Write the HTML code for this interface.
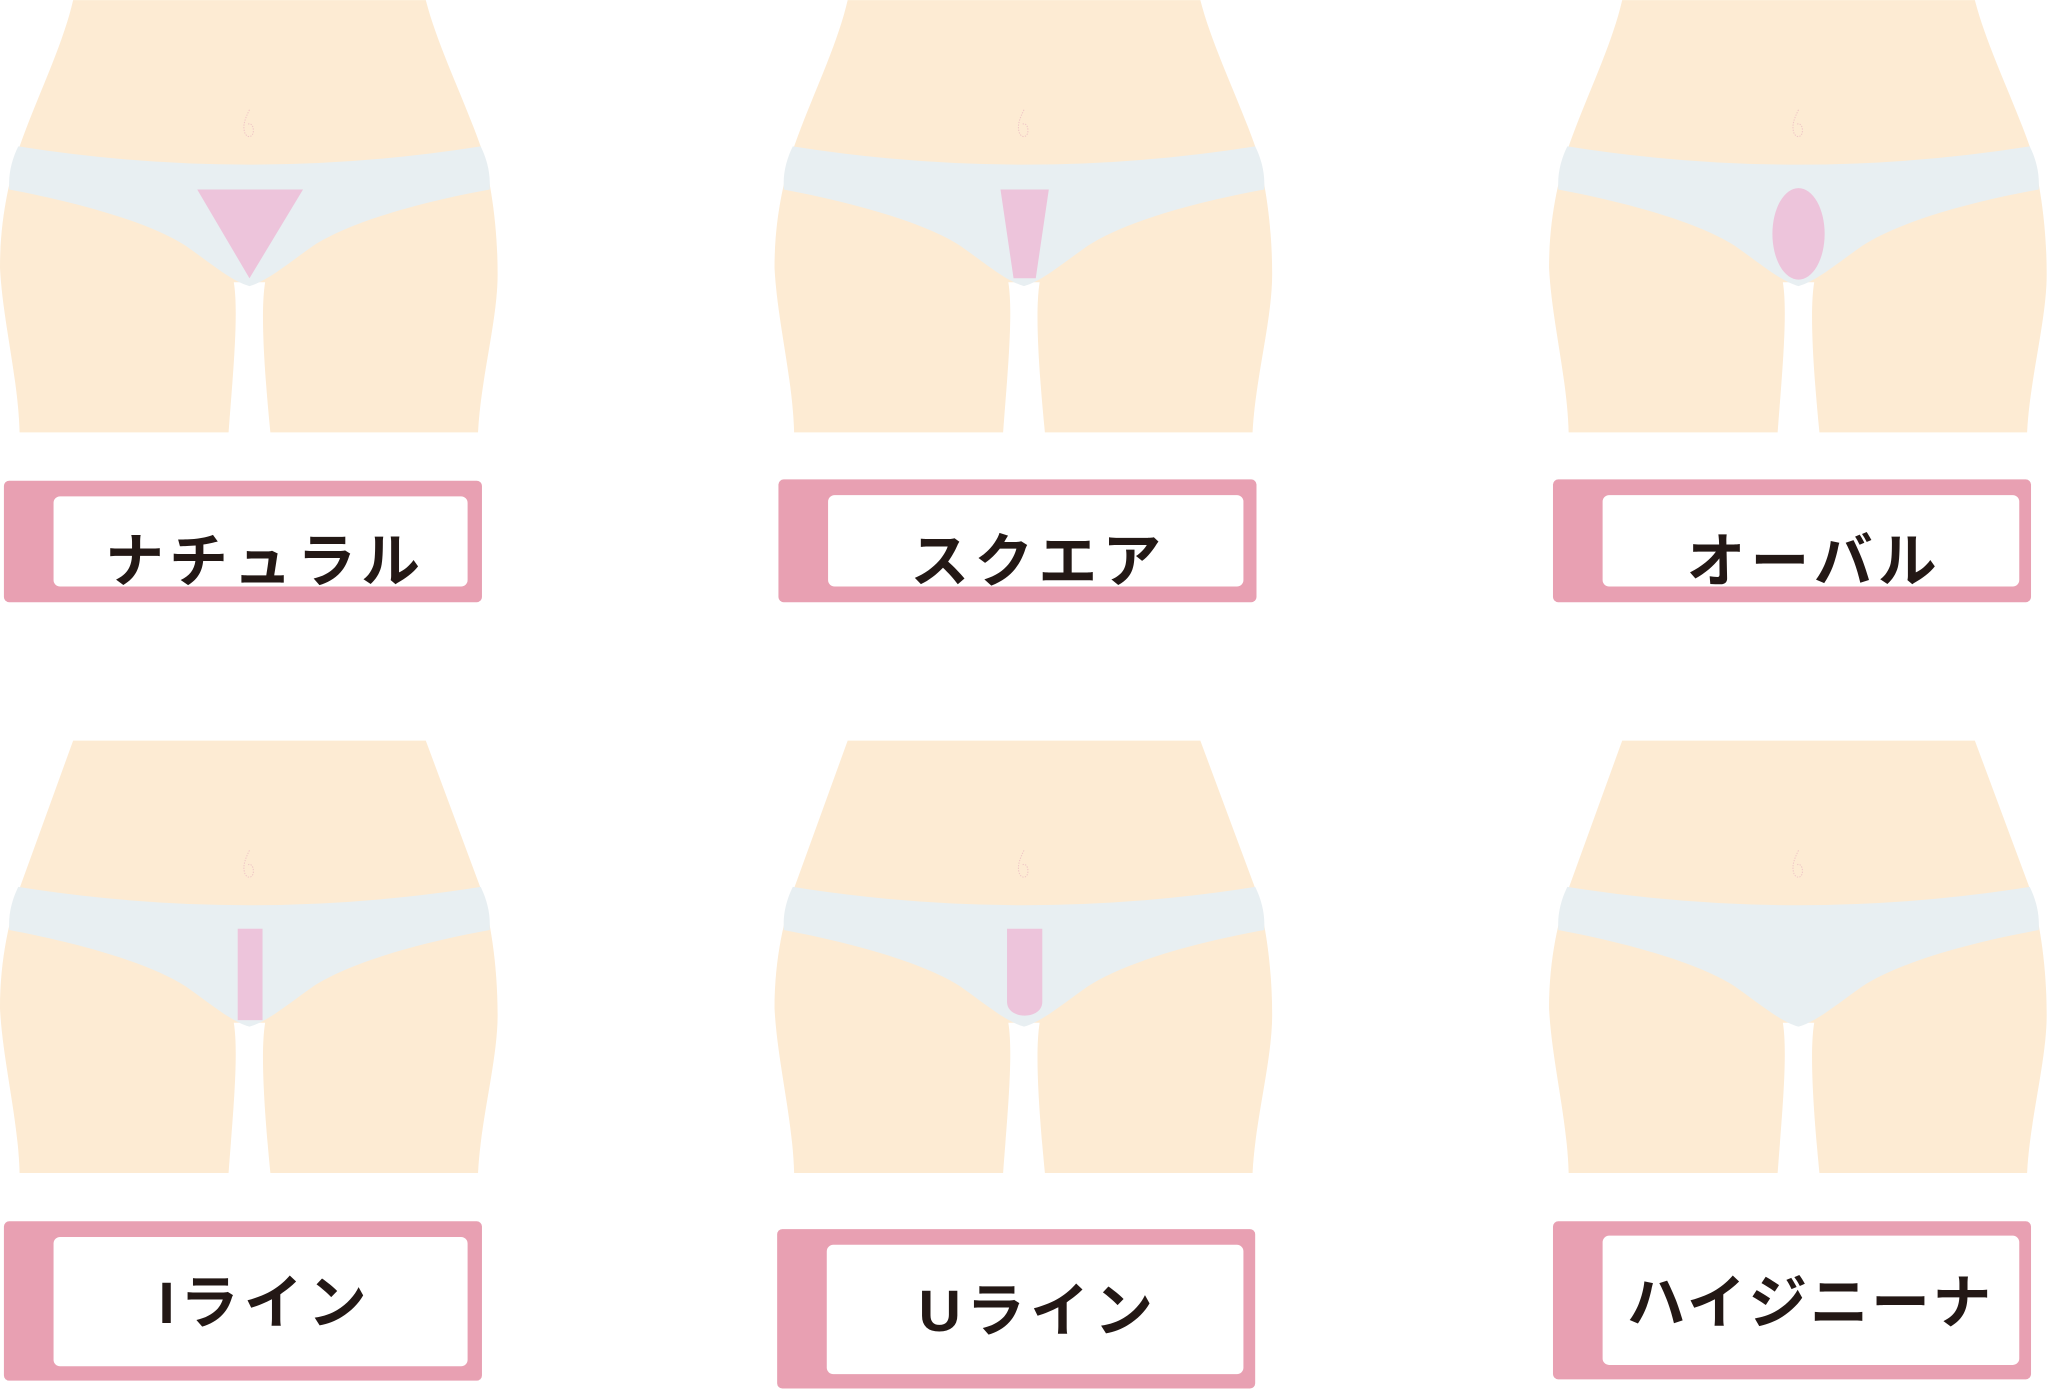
<!DOCTYPE html>
<html><head><meta charset="utf-8"><style>
html,body{margin:0;padding:0;background:#fff;width:2048px;height:1399px;overflow:hidden}
svg{display:block}
text{font-family:"Liberation Sans","Noto Sans CJK JP",sans-serif;font-weight:bold;fill:#231815}
</style></head><body>
<svg width="2048" height="1399" viewBox="0 0 1568 1071" xmlns="http://www.w3.org/2000/svg">
<defs>
<path id="navel" fill="none" stroke="#efc6c6" stroke-width="0.8" stroke-dasharray="1,1" d="M191,84 C188,90 186,95 187,100 C188,106 194,106 194,100 C194,96 192,94 190,95"/>
<g id="body">
<path fill="#FDEBD3" d="M56,0 L326,0 C335,35 355,75 368,112 C375,135 381,170 381,210 C381,245 368,290 366,331 L207,331 C203,290 199,240 203,216 L179,216 C183,240 178,290 175,331 L15,331 C14,290 2,245 0,205 C0,165 8,135 15,112 C28,75 48,35 56,0 Z"/>
<use href="#navel"/>
</g>
<g id="body2">
<path fill="#FDEBD3" d="M56,0 L326,0 L368,113 C375,135 381,170 381,210 C381,245 368,290 366,331 L207,331 C203,290 199,240 203,216 L179,216 C183,240 178,290 175,331 L15,331 C14,290 2,245 0,205 C0,165 8,135 15,113 L56,0 Z"/>
<use href="#navel"/>
</g>
<path id="panty" fill="#E8EFF2" d="M14,112 Q191,140 368,112 C372,120 375,130 375,140 L375,145 C320,155 268,170 240,188 C220,202 205,215 191,219 C177,215 162,202 142,188 C114,170 60,155 7,145 L7,140 C7,130 10,120 14,112 Z"/>
<path id="panty2" fill="#E8EFF2" d="M14,113 Q191,145 368,113 C372,125 375,135 375,141 L375,145 C330,165 300,185 270,205 C240,212 210,217 191,219 C172,217 142,212 112,205 C82,185 52,165 7,145 L7,141 C8,133 10,123 14,113 Z"/>
</defs>

<!-- Row 1 -->
<g><use href="#body"/><use href="#panty"/><polygon fill="#EDC4DB" points="151,145 232,145 191,213"/></g>
<g transform="translate(593,0)"><use href="#body"/><use href="#panty"/><polygon fill="#EDC4DB" points="173,145 210,145 200,213 183,213"/></g>
<g transform="translate(1186,0)"><use href="#body"/><use href="#panty"/><ellipse fill="#EDC4DB" cx="191" cy="179" rx="20" ry="35"/></g>

<!-- Row 2 -->
<g transform="translate(0,567)"><use href="#body2"/><use href="#panty"/><rect fill="#EDC4DB" x="182" y="144" width="19" height="70"/></g>
<g transform="translate(593,567)"><use href="#body2"/><use href="#panty"/><path fill="#EDC4DB" d="M178,144 L205,144 L205,200 C205,214 178,214 178,200 Z"/></g>
<g transform="translate(1186,567)"><use href="#body2"/><use href="#panty"/></g>

<!-- Labels -->
<g fill="#E8A0B2">
<rect x="3" y="368" width="366" height="93" rx="4"/>
<rect x="596" y="367" width="366" height="94" rx="4"/>
<rect x="1189" y="367" width="366" height="94" rx="4"/>
<rect x="3" y="935" width="366" height="122" rx="4"/>
<rect x="595" y="941" width="366" height="122" rx="4"/>
<rect x="1189" y="935" width="366" height="121" rx="4"/>
</g>
<g fill="#fff">
<rect x="41" y="380" width="317" height="69" rx="5"/>
<rect x="634" y="379" width="318" height="70" rx="5"/>
<rect x="1227" y="379" width="319" height="70" rx="5"/>
<rect x="41" y="947" width="317" height="99" rx="5"/>
<rect x="633" y="953" width="319" height="99" rx="5"/>
<rect x="1227" y="946" width="319" height="99" rx="5"/>
</g>
<g font-size="45" text-anchor="middle">
<text x="203" y="445" letter-spacing="4">ナチュラル</text>
<text x="795" y="445" letter-spacing="4">スクエア</text>
<text x="1389" y="445" letter-spacing="4">オーバル</text>
<text x="203" y="1013" letter-spacing="4">Iライン</text>
<text x="795" y="1019" letter-spacing="4">Uライン</text>
<text x="1386" y="1013" letter-spacing="2">ハイジニーナ</text>
</g>
</svg>
</body></html>
